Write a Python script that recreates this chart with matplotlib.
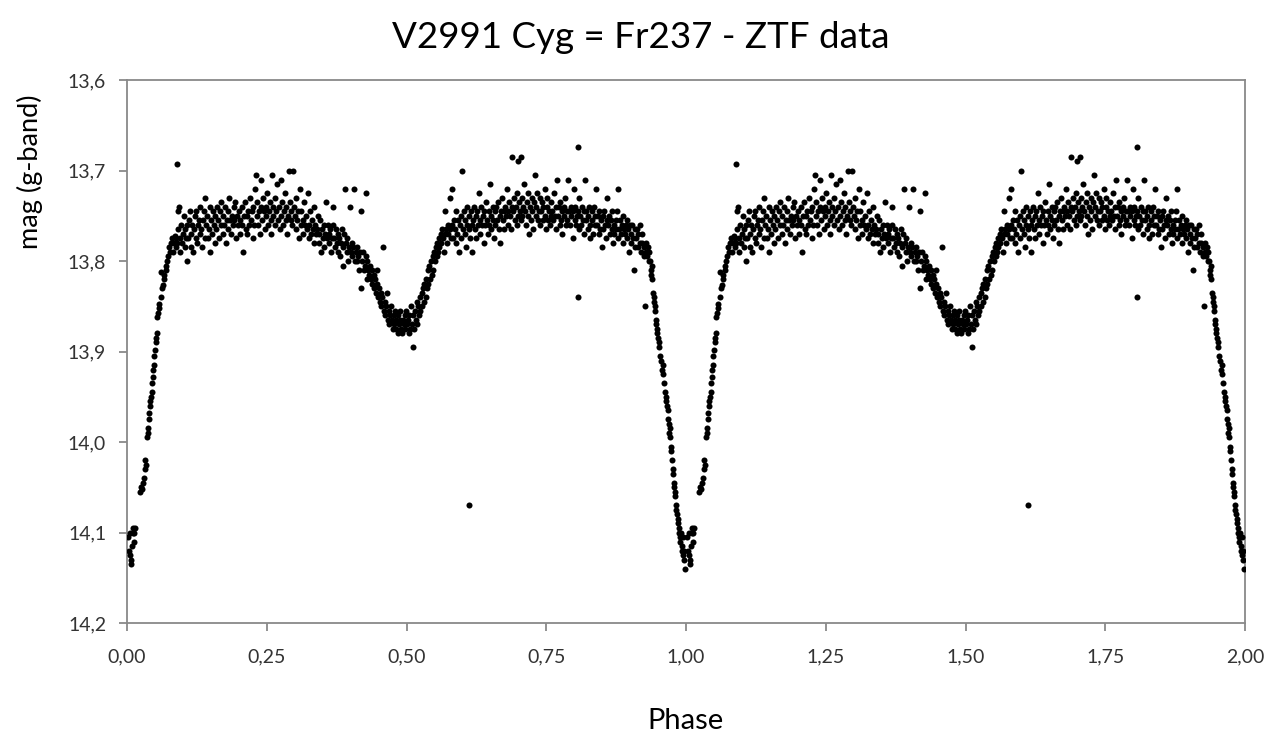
import numpy as np
import matplotlib
matplotlib.use("Agg")
import matplotlib.pyplot as plt
from matplotlib.ticker import FuncFormatter, MultipleLocator

plt.rcParams['font.family'] = ['Lato', 'DejaVu Sans']

# Light curve, one cycle (phase, mag); the plot repeats it at phase + 1
egress = [(0.002, 14.105), (0.003, 14.12), (0.005, 14.10), (0.006, 14.125), (0.007, 14.13),
          (0.008, 14.135), (0.009, 14.115), (0.010, 14.10), (0.011, 14.095), (0.012, 14.11),
          (0.013, 14.10), (0.014, 14.095),
          (0.023, 14.055), (0.025, 14.05), (0.027, 14.052), (0.029, 14.045), (0.031, 14.04),
          (0.032, 14.03), (0.033, 14.02), (0.034, 14.025), (0.036, 13.995), (0.037, 13.99),
          (0.038, 13.985), (0.039, 13.975), (0.040, 13.968), (0.041, 13.96), (0.042, 13.955),
          (0.043, 13.95), (0.044, 13.945), (0.045, 13.935), (0.046, 13.928), (0.047, 13.92),
          (0.048, 13.915), (0.049, 13.905), (0.050, 13.898), (0.051, 13.89), (0.052, 13.885),
          (0.053, 13.88), (0.054, 13.862), (0.055, 13.858), (0.057, 13.852), (0.058, 13.848),
          (0.060, 13.84), (0.061, 13.812), (0.063, 13.83), (0.064, 13.826), (0.066, 13.82),
          (0.067, 13.815), (0.069, 13.81), (0.070, 13.805), (0.072, 13.80), (0.074, 13.795),
          (0.075, 13.785), (0.077, 13.79), (0.079, 13.78), (0.080, 13.775), (0.082, 13.79),
          (0.084, 13.78), (0.085, 13.772), (0.087, 13.785), (0.088, 13.775)]

max1 = [(0.089, 13.693), (0.090, 13.78), (0.091, 13.765), (0.092, 13.745), (0.093, 13.74),
        (0.094, 13.79), (0.095, 13.775), (0.097, 13.76), (0.099, 13.78), (0.100, 13.77),
        (0.102, 13.75), (0.103, 13.785), (0.104, 13.765), (0.106, 13.775), (0.107, 13.80),
        (0.108, 13.76), (0.110, 13.775), (0.111, 13.755), (0.113, 13.745), (0.114, 13.785),
        (0.115, 13.77), (0.117, 13.76), (0.118, 13.79), (0.120, 13.765), (0.121, 13.75),
        (0.123, 13.775), (0.124, 13.745), (0.126, 13.78), (0.127, 13.76), (0.129, 13.755),
        (0.130, 13.77), (0.131, 13.74), (0.133, 13.765), (0.134, 13.785), (0.136, 13.755),
        (0.137, 13.745), (0.139, 13.775), (0.140, 13.73), (0.142, 13.76), (0.143, 13.75),
        (0.145, 13.775), (0.146, 13.765), (0.148, 13.74), (0.149, 13.79), (0.151, 13.755),
        (0.152, 13.77), (0.154, 13.745), (0.155, 13.76), (0.157, 13.78), (0.158, 13.75),
        (0.160, 13.765), (0.161, 13.74), (0.163, 13.755), (0.165, 13.775), (0.166, 13.745),
        (0.168, 13.76), (0.169, 13.735), (0.171, 13.77), (0.172, 13.75), (0.174, 13.76),
        (0.175, 13.74), (0.177, 13.78), (0.178, 13.755), (0.180, 13.745), (0.181, 13.765),
        (0.183, 13.73), (0.184, 13.755), (0.186, 13.77), (0.188, 13.75), (0.189, 13.76),
        (0.191, 13.74), (0.192, 13.755), (0.194, 13.735), (0.195, 13.775), (0.197, 13.75),
        (0.198, 13.76), (0.200, 13.745), (0.202, 13.77), (0.203, 13.755), (0.205, 13.74),
        (0.206, 13.76), (0.208, 13.79), (0.209, 13.75), (0.211, 13.735), (0.212, 13.765),
        (0.214, 13.75), (0.215, 13.77), (0.217, 13.745), (0.218, 13.76), (0.220, 13.73),
        (0.222, 13.755), (0.223, 13.745), (0.225, 13.775), (0.226, 13.74), (0.228, 13.76),
        (0.229, 13.72), (0.230, 13.705), (0.232, 13.75), (0.233, 13.735), (0.235, 13.76),
        (0.236, 13.745), (0.238, 13.77), (0.239, 13.74), (0.240, 13.71), (0.242, 13.755),
        (0.243, 13.73), (0.245, 13.745), (0.246, 13.765), (0.248, 13.74), (0.249, 13.75),
        (0.251, 13.725), (0.252, 13.76), (0.254, 13.745), (0.255, 13.735), (0.257, 13.755),
        (0.258, 13.77), (0.259, 13.705), (0.261, 13.74), (0.262, 13.75), (0.264, 13.73),
        (0.265, 13.76), (0.267, 13.745), (0.268, 13.715), (0.270, 13.755), (0.272, 13.74),
        (0.273, 13.765), (0.275, 13.71), (0.276, 13.75), (0.278, 13.735), (0.279, 13.76),
        (0.281, 13.745), (0.282, 13.725), (0.284, 13.755), (0.285, 13.74), (0.287, 13.77),
        (0.288, 13.75), (0.290, 13.70), (0.291, 13.735), (0.293, 13.755), (0.294, 13.745),
        (0.296, 13.76), (0.297, 13.70), (0.299, 13.74), (0.300, 13.75), (0.302, 13.765),
        (0.303, 13.73), (0.305, 13.755), (0.306, 13.745), (0.308, 13.775), (0.309, 13.72),
        (0.311, 13.76), (0.312, 13.745), (0.314, 13.755), (0.315, 13.77), (0.317, 13.735),
        (0.318, 13.76), (0.320, 13.75), (0.322, 13.765), (0.323, 13.725), (0.325, 13.76),
        (0.326, 13.775), (0.328, 13.745), (0.329, 13.77), (0.331, 13.755), (0.332, 13.765),
        (0.334, 13.74), (0.335, 13.78), (0.337, 13.76), (0.338, 13.77), (0.340, 13.765),
        (0.341, 13.75), (0.343, 13.78), (0.344, 13.77), (0.346, 13.755), (0.347, 13.79),
        (0.349, 13.765), (0.350, 13.775), (0.352, 13.76), (0.353, 13.785), (0.355, 13.77),
        (0.356, 13.735), (0.358, 13.775), (0.359, 13.76), (0.361, 13.78), (0.362, 13.77),
        (0.364, 13.765), (0.365, 13.79), (0.367, 13.775), (0.368, 13.76), (0.369, 13.74),
        (0.371, 13.775), (0.372, 13.785), (0.374, 13.765), (0.375, 13.78), (0.377, 13.79),
        (0.378, 13.77), (0.380, 13.775), (0.381, 13.795), (0.383, 13.78), (0.384, 13.765),
        (0.386, 13.785), (0.387, 13.805), (0.389, 13.77), (0.390, 13.72), (0.391, 13.78),
        (0.393, 13.79), (0.394, 13.775), (0.396, 13.80), (0.397, 13.785), (0.399, 13.74),
        (0.400, 13.79), (0.402, 13.78), (0.403, 13.795), (0.405, 13.785), (0.406, 13.72),
        (0.408, 13.80), (0.409, 13.79), (0.411, 13.785), (0.412, 13.80), (0.414, 13.795),
        (0.415, 13.81), (0.417, 13.79), (0.418, 13.83), (0.419, 13.745), (0.421, 13.80),
        (0.422, 13.79), (0.424, 13.81), (0.425, 13.805), (0.427, 13.725), (0.428, 13.795),
        (0.429, 13.82)]

min2 = [(0.430, 13.80), (0.432, 13.81), (0.433, 13.815), (0.435, 13.805), (0.436, 13.82),
        (0.438, 13.81), (0.439, 13.825), (0.441, 13.815), (0.442, 13.83), (0.444, 13.82),
        (0.445, 13.835), (0.447, 13.825), (0.448, 13.81), (0.449, 13.84), (0.451, 13.83),
        (0.452, 13.845), (0.454, 13.835), (0.455, 13.85), (0.457, 13.84), (0.458, 13.785),
        (0.459, 13.855), (0.461, 13.845), (0.462, 13.86), (0.464, 13.85), (0.465, 13.835),
        (0.467, 13.865), (0.468, 13.855), (0.469, 13.87), (0.471, 13.86), (0.472, 13.85),
        (0.474, 13.865), (0.475, 13.875), (0.477, 13.86), (0.478, 13.87), (0.479, 13.855),
        (0.481, 13.865), (0.482, 13.875), (0.484, 13.86), (0.485, 13.88), (0.487, 13.87),
        (0.488, 13.865), (0.489, 13.855), (0.491, 13.875), (0.492, 13.88), (0.494, 13.865),
        (0.495, 13.87), (0.497, 13.86), (0.498, 13.875), (0.499, 13.855), (0.501, 13.87),
        (0.502, 13.865), (0.504, 13.88), (0.505, 13.86), (0.507, 13.875), (0.508, 13.85),
        (0.509, 13.87), (0.511, 13.895), (0.512, 13.86), (0.514, 13.875), (0.515, 13.855),
        (0.517, 13.865), (0.518, 13.845), (0.519, 13.87), (0.521, 13.85), (0.522, 13.86),
        (0.524, 13.84), (0.525, 13.855), (0.527, 13.835), (0.528, 13.85), (0.529, 13.83),
        (0.531, 13.845), (0.532, 13.825), (0.534, 13.84), (0.535, 13.82), (0.537, 13.83),
        (0.538, 13.81), (0.539, 13.825), (0.541, 13.805), (0.542, 13.82), (0.544, 13.80),
        (0.545, 13.815), (0.547, 13.795), (0.548, 13.81), (0.549, 13.79), (0.551, 13.80),
        (0.552, 13.785), (0.554, 13.795), (0.555, 13.78), (0.557, 13.79), (0.558, 13.775),
        (0.559, 13.785), (0.561, 13.77), (0.562, 13.78), (0.564, 13.765), (0.565, 13.775),
        (0.567, 13.79), (0.568, 13.77), (0.569, 13.745), (0.571, 13.765), (0.572, 13.78),
        (0.574, 13.76), (0.575, 13.77), (0.577, 13.73), (0.578, 13.765), (0.579, 13.775)]

max2 = [(0.581, 13.76), (0.582, 13.72), (0.584, 13.775), (0.585, 13.755), (0.587, 13.765),
        (0.588, 13.745), (0.589, 13.78), (0.591, 13.77), (0.592, 13.755), (0.594, 13.79),
        (0.595, 13.76), (0.597, 13.75), (0.598, 13.775), (0.599, 13.70), (0.601, 13.765),
        (0.602, 13.745), (0.604, 13.77), (0.605, 13.755), (0.607, 13.785), (0.608, 13.76),
        (0.609, 13.74), (0.611, 13.765), (0.612, 13.75), (0.614, 13.775), (0.615, 13.745),
        (0.617, 13.76), (0.618, 13.79), (0.619, 13.755), (0.621, 13.74), (0.622, 13.765),
        (0.624, 13.75), (0.625, 13.775), (0.627, 13.745), (0.628, 13.76), (0.629, 13.725),
        (0.631, 13.755), (0.632, 13.77), (0.634, 13.74), (0.635, 13.76), (0.637, 13.75),
        (0.638, 13.78), (0.639, 13.745), (0.641, 13.76), (0.642, 13.735), (0.644, 13.755),
        (0.645, 13.77), (0.647, 13.745), (0.648, 13.76), (0.649, 13.715), (0.651, 13.75),
        (0.652, 13.765), (0.654, 13.74), (0.655, 13.755), (0.657, 13.775), (0.658, 13.745),
        (0.659, 13.76), (0.661, 13.74), (0.662, 13.755), (0.664, 13.735), (0.665, 13.765),
        (0.667, 13.75), (0.668, 13.78), (0.669, 13.745), (0.671, 13.73), (0.672, 13.755),
        (0.674, 13.745), (0.675, 13.765), (0.677, 13.74), (0.678, 13.75), (0.679, 13.72),
        (0.681, 13.745), (0.682, 13.76), (0.684, 13.735), (0.685, 13.75), (0.687, 13.765),
        (0.688, 13.74), (0.689, 13.685), (0.691, 13.745), (0.692, 13.73), (0.694, 13.755),
        (0.695, 13.74), (0.697, 13.76), (0.698, 13.725), (0.699, 13.75), (0.700, 13.69),
        (0.701, 13.735), (0.703, 13.745), (0.704, 13.755), (0.705, 13.685), (0.706, 13.73),
        (0.707, 13.75), (0.709, 13.74), (0.711, 13.715), (0.712, 13.745), (0.714, 13.76),
        (0.715, 13.735), (0.717, 13.75), (0.718, 13.725), (0.719, 13.77), (0.721, 13.74),
        (0.722, 13.755), (0.724, 13.73), (0.725, 13.745), (0.727, 13.765), (0.728, 13.735),
        (0.729, 13.705), (0.731, 13.75), (0.732, 13.74), (0.734, 13.725), (0.735, 13.755),
        (0.737, 13.745), (0.738, 13.76), (0.739, 13.73), (0.741, 13.745), (0.742, 13.735),
        (0.744, 13.755), (0.745, 13.74), (0.747, 13.72), (0.748, 13.75), (0.749, 13.765),
        (0.751, 13.74), (0.752, 13.73), (0.754, 13.755), (0.755, 13.745), (0.757, 13.76),
        (0.758, 13.735), (0.759, 13.75), (0.761, 13.745), (0.762, 13.755), (0.764, 13.725),
        (0.765, 13.75), (0.767, 13.74), (0.768, 13.765), (0.769, 13.71), (0.771, 13.75),
        (0.772, 13.74), (0.774, 13.76), (0.775, 13.735), (0.777, 13.755), (0.778, 13.745),
        (0.779, 13.77), (0.781, 13.74), (0.782, 13.75), (0.784, 13.73), (0.785, 13.76),
        (0.787, 13.745), (0.788, 13.755), (0.789, 13.71), (0.791, 13.745), (0.792, 13.76),
        (0.794, 13.74), (0.795, 13.75), (0.797, 13.775), (0.798, 13.745), (0.799, 13.72),
        (0.801, 13.755), (0.802, 13.74), (0.804, 13.76), (0.805, 13.75), (0.807, 13.745),
        (0.808, 13.765), (0.809, 13.73), (0.811, 13.75), (0.812, 13.76), (0.814, 13.74),
        (0.815, 13.755), (0.817, 13.77), (0.818, 13.745), (0.819, 13.71), (0.821, 13.755),
        (0.822, 13.745), (0.824, 13.765), (0.825, 13.75), (0.827, 13.74), (0.828, 13.76),
        (0.829, 13.775), (0.831, 13.745), (0.832, 13.755), (0.834, 13.77), (0.835, 13.74),
        (0.837, 13.76), (0.838, 13.75), (0.839, 13.72), (0.841, 13.76), (0.842, 13.75),
        (0.844, 13.77), (0.845, 13.745), (0.847, 13.765), (0.848, 13.755), (0.849, 13.785),
        (0.851, 13.75), (0.852, 13.765), (0.854, 13.745), (0.855, 13.76), (0.857, 13.775),
        (0.858, 13.755), (0.859, 13.73), (0.861, 13.76), (0.862, 13.75), (0.864, 13.77),
        (0.865, 13.755), (0.867, 13.765), (0.868, 13.745), (0.869, 13.78), (0.871, 13.76),
        (0.872, 13.77), (0.874, 13.755), (0.875, 13.765), (0.877, 13.745), (0.878, 13.775),
        (0.879, 13.72), (0.881, 13.765), (0.882, 13.755), (0.884, 13.77), (0.885, 13.76),
        (0.887, 13.78), (0.888, 13.75), (0.889, 13.765), (0.891, 13.77), (0.892, 13.76),
        (0.894, 13.775), (0.895, 13.755), (0.897, 13.765), (0.898, 13.79), (0.899, 13.76),
        (0.901, 13.77), (0.902, 13.78), (0.904, 13.76), (0.905, 13.775), (0.907, 13.81),
        (0.908, 13.765), (0.909, 13.785), (0.911, 13.775), (0.912, 13.765), (0.914, 13.785),
        (0.915, 13.77), (0.917, 13.78), (0.918, 13.76), (0.919, 13.79), (0.921, 13.78),
        (0.922, 13.77), (0.924, 13.785), (0.925, 13.795), (0.927, 13.85), (0.928, 13.78),
        (0.929, 13.79), (0.931, 13.795), (0.932, 13.785), (0.933, 13.80), (0.934, 13.79)]

ingress = [(0.936, 13.80), (0.937, 13.81), (0.938, 13.815), (0.939, 13.805), (0.940, 13.82),
           (0.941, 13.835), (0.942, 13.84), (0.943, 13.845), (0.944, 13.855), (0.945, 13.85),
           (0.946, 13.865), (0.947, 13.87), (0.948, 13.875), (0.949, 13.88), (0.950, 13.885),
           (0.951, 13.89), (0.952, 13.895), (0.954, 13.905), (0.955, 13.91), (0.957, 13.92),
           (0.958, 13.915), (0.959, 13.925), (0.961, 13.935), (0.962, 13.945), (0.964, 13.955),
           (0.965, 13.95), (0.966, 13.96), (0.967, 13.965), (0.968, 13.975), (0.969, 13.98),
           (0.970, 13.99), (0.971, 13.985), (0.972, 13.995), (0.973, 14.005), (0.974, 14.01),
           (0.975, 14.02), (0.976, 14.03), (0.977, 14.035), (0.978, 14.045), (0.979, 14.05),
           (0.980, 14.055), (0.981, 14.06), (0.982, 14.07), (0.983, 14.075), (0.984, 14.08),
           (0.985, 14.09), (0.986, 14.085), (0.987, 14.10), (0.988, 14.095), (0.989, 14.105),
           (0.990, 14.11), (0.991, 14.10), (0.992, 14.12), (0.993, 14.115), (0.994, 14.105),
           (0.995, 14.125), (0.996, 14.12), (0.997, 14.13), (0.998, 14.14)]

outliers = [(0.612, 14.07), (0.806, 13.84), (0.807, 13.674)]

cycle = np.array(egress + max1 + min2 + max2 + ingress + outliers)
phase = np.concatenate([cycle[:, 0], cycle[:, 0] + 1])
mag = np.concatenate([cycle[:, 1], cycle[:, 1]])

fig = plt.figure(figsize=(12.81, 7.34), dpi=100)
ax = fig.add_axes([127 / 1281, 1 - 623 / 734, (1245 - 127) / 1281, (623 - 80) / 734])

ax.scatter(phase, mag, s=19, c='black', linewidths=0, zorder=3)

ax.set_xlim(0, 2)
ax.set_ylim(14.2, 13.6)  # magnitudes: brighter at top
ax.xaxis.set_major_locator(MultipleLocator(0.25))
ax.yaxis.set_major_locator(MultipleLocator(0.1))
ax.xaxis.set_major_formatter(FuncFormatter(lambda v, p: "{0:.2f}".format(v).replace('.', ',')))
ax.yaxis.set_major_formatter(FuncFormatter(lambda v, p: "{0:.1f}".format(v).replace('.', ',')))

for side in ax.spines.values():
    side.set_color('#898989')
    side.set_linewidth(1.3)
ax.tick_params(axis='both', direction='out', length=6, width=1.3, color='#898989',
               labelsize=14, labelcolor='#333333')
ax.tick_params(axis='x', pad=12)
ax.tick_params(axis='y', pad=9)

ax.set_xlabel('Phase', fontsize=21, labelpad=31)
# y label sits at the top of the axis, as in the reference
fig.text(30 / 1281, 1 - 172 / 734, 'mag (g-band)', fontsize=19.5, rotation=90,
         ha='center', va='center')
fig.text(0.5, 1 - 37 / 734, 'V2991 Cyg = Fr237 - ZTF data', fontsize=26.5,
         ha='center', va='center')

plt.savefig('out.png', dpi=100)
plt.close('all')
